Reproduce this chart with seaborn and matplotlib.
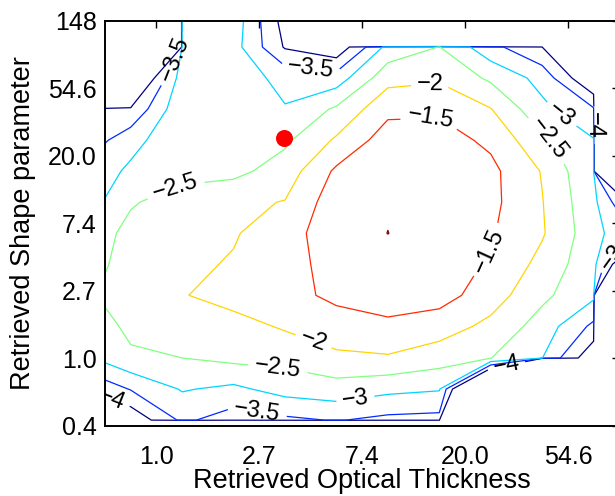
import numpy as np
import matplotlib
matplotlib.use("Agg")
import matplotlib.pyplot as plt
import seaborn as sns

# Node coordinates of the retrieval grid (natural log of the retrieved quantities)
tau_ln = [-0.75, -0.25, 0.25, 0.75, 1.25, 1.75, 2.25, 2.75, 3.25, 3.75, 4.25, 4.75]
shape_ln = [-1.38, -0.92, -0.46, 0.00, 0.47, 0.93, 1.39, 1.85, 2.31,
            2.77, 3.23, 3.69, 4.15, 4.61, 5.07]

# Log10 cost on the grid, one list per shape-parameter row (bottom to top);
# FLOOR marks nodes outside the valid retrieval domain.
FLOOR = -100.0
cost = [
    [FLOOR] * 12,
    [-5.00, -4.40, -3.40, -3.76, -3.60, -3.47, -3.63, -3.67, FLOOR, FLOOR, FLOOR, FLOOR],
    [-4.07, -3.47, -2.96, -3.11, -2.80, -2.69, -2.87, -2.96, -7.00, FLOOR, FLOOR, FLOOR],
    [-3.15, -2.58, -2.50, -2.37, -2.35, -2.15, -2.05, -2.27, -2.49, -2.99, -4.43, FLOOR],
    [-2.87, -2.39, -2.25, -2.19, -1.94, -1.58, -1.62, -1.76, -2.13, -2.71, -3.62, FLOOR],
    [-2.60, -2.30, -2.03, -1.80, -1.56, -1.46, -1.22, -1.30, -1.76, -2.39, -2.89, FLOOR],
    [-2.77, -2.30, -2.10, -1.96, -1.70, -1.30, -1.10, -1.28, -1.55, -2.15, -2.85, -5.97],
    [-2.89, -2.35, -2.20, -2.04, -1.74, -1.16, -0.997, -1.15, -1.45, -1.95, -2.81, -3.71],
    [-3.37, -2.55, -2.27, -2.10, -1.98, -1.21, -1.03, -1.20, -1.37, -1.98, -2.88, -4.60],
    [-3.43, -2.90, -2.68, -2.64, -2.27, -1.41, -1.10, -1.30, -1.375, -2.03, -2.97, FLOOR],
    [-3.92, -3.18, -2.60, -2.65, -2.59, -1.93, -1.25, -1.30, -1.60, -2.40, -2.97, FLOOR],
    [-3.90, -3.95, -2.60, -2.70, -2.97, -2.42, -1.63, -1.58, -1.98, -2.88, -3.45, FLOOR],
    [FLOOR, -5.07, -2.74, -2.74, -3.15, -3.27, -2.17, -2.08, -2.59, -3.17, -4.60, FLOOR],
    [FLOOR, FLOOR, -2.95, -2.80, -4.05, -4.39, -2.84, -2.49, -3.34, -3.98, FLOOR, FLOOR],
    [FLOOR, FLOOR, -2.90, -2.69, -4.25, FLOOR, FLOOR, FLOOR, FLOOR, FLOOR, FLOOR, FLOOR],
]

levels = [-4.0, -3.5, -3.0, -2.5, -2.0, -1.5, -1.0]

# Best retrieval
best_tau_ln = 1.24
best_shape_ln = 3.26

x_ticks = [0, 1, 2, 3, 4]
x_tick_labels = ["1.0", "2.7", "7.4", "20.0", "54.6"]
y_ticks = [-1, 0, 1, 2, 3, 4, 5]
y_tick_labels = ["0.4", "1.0", "2.7", "7.4", "20.0", "54.6", "148"]

# Where each level's inline labels sit (data coordinates)
label_spots = {
    -4.0: [(4.249, 3.45), (3.392, -0.035), (-0.43, -0.60)],
    -3.5: [(0.19, 4.42), (1.50, 4.253), (0.977, -0.816), (4.5, 1.6)],
    -3.0: [(3.925, 3.586), (1.937, -0.63)],
    -2.5: [(3.809, 3.23), (0.191, 2.50), (1.18, -0.177)],
    -2.0: [(2.664, 4.031), (1.52, 0.218)],
    -1.5: [(2.664, 3.512), (3.227, 1.597)],
}

sns.set_theme(style="white")
plt.rcParams["font.family"] = ["Liberation Sans", "DejaVu Sans"]
plt.rcParams["axes.unicode_minus"] = True

fig = plt.figure(figsize=(6.15, 4.96), dpi=100)
ax = fig.add_axes([105 / 615, (496 - 425.5) / 496, (619.3 - 105) / 615, (425.5 - 20.7) / 496])

X, Y = np.meshgrid(np.array(tau_ln), np.array(shape_ln))
Z = np.array(cost)


def jet_color(t):
    """Classic piecewise-linear jet colour for t in [0, 1]."""
    r = np.clip(1.5 - abs(4 * t - 3), 0, 1)
    g = np.clip(1.5 - abs(4 * t - 2), 0, 1)
    b = np.clip(1.5 - abs(4 * t - 1), 0, 1)
    return (r, g, b)


def fmt(v):
    return f"{v:g}".replace("-", "\u2212")


lo, hi = min(levels), max(levels)
# One contour set per level so each label snaps to its own line
for lev in levels:
    cs = ax.contour(X, Y, Z, levels=[lev], colors=[jet_color((lev - lo) / (hi - lo))],
                    linewidths=0.9, linestyles="solid")
    spots = label_spots.get(lev)
    if spots:
        cs.clabel(manual=spots, inline=True, inline_spacing=4,
                  fontsize=17, fmt=fmt, colors="black")

sns.scatterplot(x=[best_tau_ln], y=[best_shape_ln], ax=ax, s=150, color="red",
                edgecolor="red", linewidth=0, zorder=5, legend=False)

ax.set_xlim(-0.5, 4.5)
ax.set_ylim(-1, 5)
ax.set_xticks(x_ticks)
ax.set_xticklabels(x_tick_labels)
ax.set_yticks(y_ticks)
ax.set_yticklabels(y_tick_labels)
ax.tick_params(direction="in", length=5, width=1, top=True, right=True,
               labelsize=18, colors="black")
ax.tick_params(axis="x", pad=14)
ax.tick_params(axis="y", pad=6)
for sp in ax.spines.values():
    sp.set_color("black")
    sp.set_linewidth(1.4)

ax.set_xlabel("Retrieved Optical Thickness", fontsize=19.5, color="black")
ax.set_ylabel("Retrieved Shape parameter", fontsize=19.5, color="black")
ax.xaxis.set_label_coords(0.5, -0.104)
ax.yaxis.set_label_coords(-0.135, 0.5)
ax.grid(False)

fig.savefig("out.png", dpi=100)
